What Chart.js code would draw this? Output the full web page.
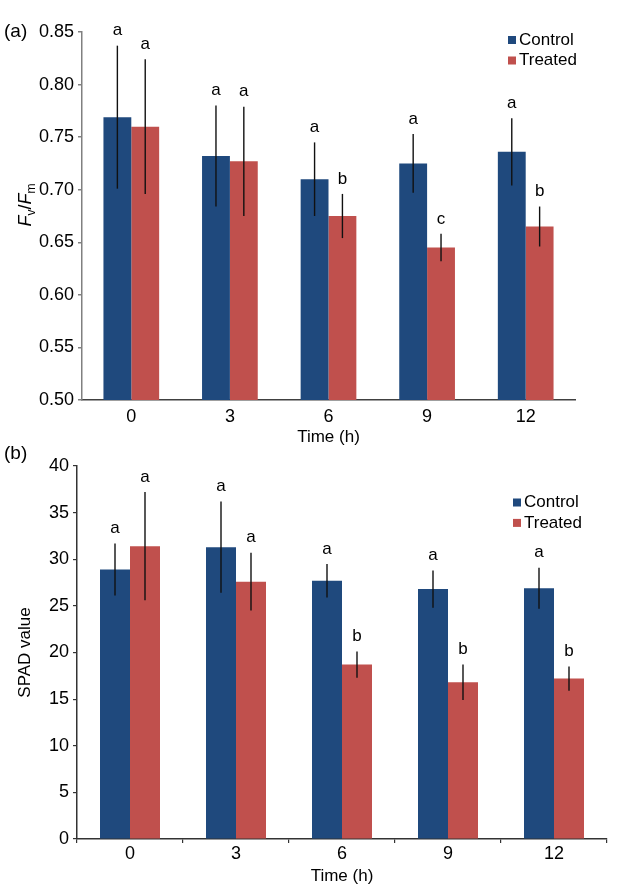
<!DOCTYPE html>
<html>
<head>
<meta charset="utf-8">
<title>Fv/Fm and SPAD value</title>
<script src="https://cdn.jsdelivr.net/npm/chart.js@4.4.1/dist/chart.umd.min.js"></script>
<style>
  html, body { margin: 0; padding: 0; background: #fff; }
  #wrap { position: relative; width: 632px; height: 896px; }
  canvas { display: block; position: absolute; left: 0; }
  #chartA { top: 0; }
  #chartB { top: 440px; }
</style>
</head>
<body>
<div id="wrap">
<canvas id="chartA" width="632" height="448"></canvas>
<canvas id="chartB" width="632" height="456"></canvas>
</div>
<script>
const times = ['0', '3', '6', '9', '12'];

// panel (a) Fv/Fm
const fvfmControl = [0.769, 0.732, 0.710, 0.725, 0.736];
const fvfmTreated = [0.760, 0.727, 0.675, 0.645, 0.665];
const fvfmControlErr = [0.068, 0.048, 0.035, 0.028, 0.032];
const fvfmTreatedErr = [0.064, 0.052, 0.021, 0.013, 0.019];
const fvfmControlLetters = ['a', 'a', 'a', 'a', 'a'];
const fvfmTreatedLetters = ['a', 'a', 'b', 'c', 'b'];

// panel (b) SPAD
const spadControl = [28.9, 31.3, 27.7, 26.8, 26.9];
const spadTreated = [31.4, 27.6, 18.7, 16.8, 17.2];
const spadControlErr = [2.8, 4.9, 1.8, 2.0, 2.2];
const spadTreatedErr = [5.8, 3.1, 1.4, 1.9, 1.3];
const spadControlLetters = ['a', 'a', 'a', 'a', 'a'];
const spadTreatedLetters = ['a', 'a', 'b', 'b', 'b'];

const fam = "'Liberation Sans', Arial, sans-serif";
const blue = '#1F497D';
const red = '#C0504D';

Chart.defaults.font.family = fam;
Chart.defaults.color = '#000';

// error bars + significance letters
const errorBars = {
  id: 'errorBars',
  afterDatasetsDraw(chart, args, opts) {
    const ctx = chart.ctx;
    const y = chart.scales.y;
    ctx.save();
    chart.data.datasets.forEach((ds, di) => {
      const meta = chart.getDatasetMeta(di);
      meta.data.forEach((bar, i) => {
        const v = ds.data[i];
        const e = opts.errors[di][i];
        const top = y.getPixelForValue(v + e);
        const bottom = y.getPixelForValue(v - e);
        ctx.strokeStyle = '#111';
        ctx.lineWidth = 1.4;
        ctx.beginPath();
        ctx.moveTo(bar.x, top);
        ctx.lineTo(bar.x, bottom);
        ctx.stroke();
        ctx.fillStyle = '#000';
        ctx.font = '17px ' + fam;
        ctx.textAlign = 'center';
        ctx.textBaseline = 'middle';
        ctx.fillText(opts.letters[di][i], bar.x, top - 15);
      });
    });
    ctx.restore();
  }
};

const boxLegend = {
  id: 'boxLegend',
  afterDraw(chart, args, opts) {
    const ctx = chart.ctx;
    ctx.save();
    ctx.font = '17px ' + fam;
    ctx.textBaseline = 'middle';
    ctx.textAlign = 'left';
    chart.data.datasets.forEach((ds, i) => {
      const yy = opts.y + i * opts.rowGap;
      ctx.fillStyle = ds.backgroundColor;
      ctx.fillRect(opts.x, yy - 4, 8, 8);
      ctx.fillStyle = '#000';
      ctx.fillText(ds.label, opts.x + 11, yy);
    });
    ctx.restore();
  }
};

const panelText = {
  id: 'panelText',
  afterDraw(chart, args, opts) {
    const ctx = chart.ctx;
    ctx.save();
    ctx.fillStyle = '#000';
    ctx.font = '19px ' + fam;
    ctx.textBaseline = 'middle';
    ctx.textAlign = 'left';
    ctx.fillText(opts.tag, opts.x, opts.y);
    if (opts.fvfm) {
      // rotated F_v/F_m axis title
      const parts = [
        { t: 'F', font: 'italic 18px ' + fam, dy: 0 },
        { t: 'v', font: '12px ' + fam, dy: 4 },
        { t: '/', font: '18px ' + fam, dy: 0 },
        { t: 'F', font: 'italic 18px ' + fam, dy: 0 },
        { t: 'm', font: '12px ' + fam, dy: 4 }
      ];
      let total = 0;
      parts.forEach(p => { ctx.font = p.font; p.w = ctx.measureText(p.t).width; total += p.w; });
      ctx.translate(opts.fvfm.x, opts.fvfm.y);
      ctx.rotate(-Math.PI / 2);
      ctx.textBaseline = 'alphabetic';
      let px = -total / 2;
      parts.forEach(p => {
        ctx.font = p.font;
        ctx.fillText(p.t, px, 6.5 + p.dy);
        px += p.w;
      });
    }
    ctx.restore();
  }
};

const chartA = new Chart(document.getElementById('chartA'), {
  type: 'bar',
  data: {
    labels: times,
    datasets: [
      { label: 'Control', data: fvfmControl, backgroundColor: blue },
      { label: 'Treated', data: fvfmTreated, backgroundColor: red }
    ]
  },
  options: {
    responsive: false,
    animation: false,
    categoryPercentage: 0.565,
    barPercentage: 1,
    layout: { padding: { left: 0, right: 57, top: 32, bottom: 0 } },
    plugins: {
      legend: { display: false },
      tooltip: { enabled: false },
      errorBars: { errors: [fvfmControlErr, fvfmTreatedErr], letters: [fvfmControlLetters, fvfmTreatedLetters] },
      boxLegend: { x: 508, y: 40, rowGap: 20.5 },
      panelText: { tag: '(a)', x: 4, y: 32, fvfm: { x: 24, y: 205 } }
    },
    scales: {
      x: {
        grid: { display: false, drawTicks: false },
        border: { color: '#404040', width: 1.5 },
        ticks: { padding: 6, font: { size: 18 } },
        title: { display: true, text: 'Time (h)', font: { size: 17 }, padding: { top: 0, bottom: 0 } },
        afterFit: s => { s.height = 48; }
      },
      y: {
        min: 0.5,
        max: 0.85,
        grid: { drawOnChartArea: false, tickLength: 4, color: '#808080', lineWidth: 1.5 },
        border: { color: '#808080', width: 1.5 },
        ticks: { stepSize: 0.05, padding: 4, font: { size: 18 }, callback: v => v.toFixed(2) },
        afterFit: s => { s.width = 82; }
      }
    }
  },
  plugins: [errorBars, boxLegend, panelText]
});

const chartB = new Chart(document.getElementById('chartB'), {
  type: 'bar',
  data: {
    labels: times,
    datasets: [
      { label: 'Control', data: spadControl, backgroundColor: blue },
      { label: 'Treated', data: spadTreated, backgroundColor: red }
    ]
  },
  options: {
    responsive: false,
    animation: false,
    categoryPercentage: 0.566,
    barPercentage: 1,
    layout: { padding: { left: 0, right: 25, top: 26, bottom: 0 } },
    plugins: {
      legend: { display: false },
      tooltip: { enabled: false },
      errorBars: { errors: [spadControlErr, spadTreatedErr], letters: [spadControlLetters, spadTreatedLetters] },
      boxLegend: { x: 513, y: 62.5, rowGap: 20.4 },
      panelText: { tag: '(b)', x: 4, y: 14 }
    },
    scales: {
      x: {
        grid: { offset: true, drawOnChartArea: false, drawTicks: true, tickLength: 4, color: '#333', lineWidth: 1.2 },
        border: { color: '#333', width: 1.5 },
        ticks: { padding: 0, font: { size: 18 } },
        title: { display: true, text: 'Time (h)', font: { size: 17 }, padding: { top: 0, bottom: 9 } },
        afterFit: s => { s.height = 57; }
      },
      y: {
        min: 0,
        max: 40,
        grid: { drawOnChartArea: false, tickLength: 4, color: '#333', lineWidth: 1.2 },
        border: { color: '#333', width: 1.5 },
        ticks: { stepSize: 5, padding: 4, font: { size: 18 } },
        title: { display: true, text: 'SPAD value', font: { size: 17 }, padding: { top: 15, bottom: 0 } },
        afterFit: s => { s.width = 77; }
      }
    }
  },
  plugins: [errorBars, boxLegend, panelText]
});
</script>
</body>
</html>
